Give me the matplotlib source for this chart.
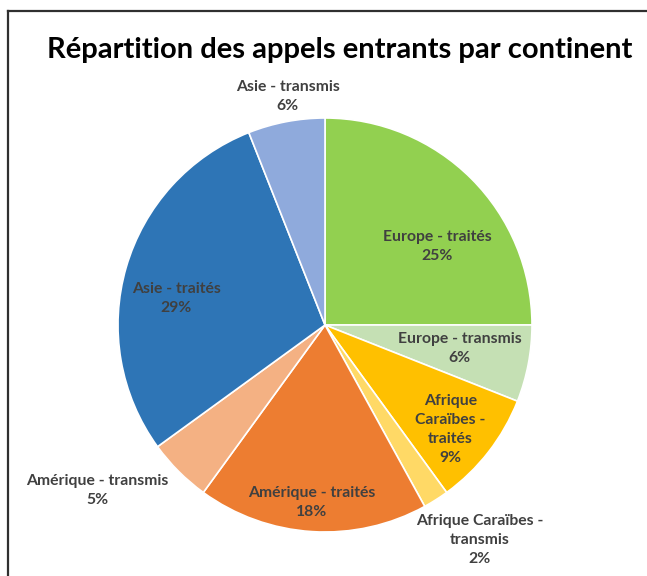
import numpy as np
import matplotlib.pyplot as plt
from matplotlib.lines import Line2D

plt.rcParams['font.family'] = ['Lato', 'DejaVu Sans']

# data (clockwise from 12 o'clock)
labels = ['Europe - traités', 'Europe - transmis', 'Afrique\nCaraïbes -\ntraités',
          'Afrique Caraïbes -\ntransmis', 'Amérique - traités', 'Amérique - transmis',
          'Asie - traités', 'Asie - transmis']
shares = [25, 6, 9, 2, 18, 5, 29, 6]
colors = ['#92D050', '#C5E0B4', '#FFC000', '#FFD966',
          '#ED7D31', '#F4B183', '#2E75B6', '#8FAADC']

# label placement: radius (fraction of pie radius) and angle shift in degrees
label_r = [0.66, 0.66, 0.79, 1.28, 0.86, 1.36, 0.73, 1.12]
label_dang = [-10, 1, -2, 3.4, -0.6, -9, 6, -1.6]

W, H = 647, 576
fig = plt.figure(figsize=(W / 100, H / 100), dpi=100)

cx, cy, R = 325, 325, 207
ax = fig.add_axes([(cx - R) / W, (H - cy - R) / H, 2 * R / W, 2 * R / H])
wedges, _ = ax.pie(shares, colors=colors, startangle=90, counterclock=False,
                   radius=1, wedgeprops=dict(edgecolor='white', linewidth=1.2))
ax.set_xlim(-1, 1)
ax.set_ylim(-1, 1)
ax.set_aspect('equal')
ax.axis('off')

for w, lab, s, r, da in zip(wedges, labels, shares, label_r, label_dang):
    ang = np.deg2rad((w.theta1 + w.theta2) / 2 + da)
    ax.text(r * np.cos(ang), r * np.sin(ang), lab + '\n' + str(s) + '%',
            ha='center', va='center', fontsize=11.3, fontweight='bold',
            color='#404040', linespacing=1.45)

fig.text(340 / W, 1 - 50 / H, 'Répartition des appels entrants par continent',
         ha='center', va='center', fontsize=21, fontweight='bold', color='black')

# chart frame (left and top edges visible)
fig.add_artist(Line2D([8 / W, 8 / W], [0, 1 - 11 / H], color='#303030', lw=1.6))
fig.add_artist(Line2D([8 / W, 1], [1 - 11 / H, 1 - 11 / H], color='#303030', lw=1.6))

fig.savefig('out.png', dpi=100)
